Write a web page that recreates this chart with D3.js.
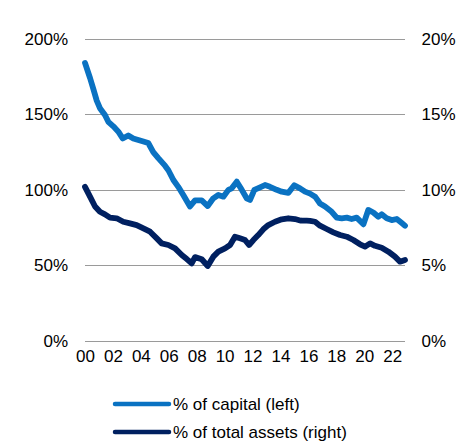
<!DOCTYPE html>
<html>
<head>
<meta charset="utf-8">
<script src="https://cdn.jsdelivr.net/npm/d3@7"></script>
<style>
  body { margin: 0; background: #fff; }
  text { font-family: "Liberation Sans", Arial, sans-serif; font-size: 17px; fill: #000; }
</style>
</head>
<body>
<svg width="476" height="441"></svg>
<script>
// years since 2000 for each reading, and the readings themselves
var capYears = [0, 0.36, 0.59, 0.84, 1.07, 1.43, 1.67, 2.03, 2.39, 2.70, 3.10, 3.46, 3.82, 4.18, 4.53, 4.89,
    5.25, 5.73, 5.97, 6.33, 6.68, 7.04, 7.52, 7.88, 8.36, 8.79, 9.19, 9.55, 9.91, 10.27, 10.51, 10.87,
    11.23, 11.58, 11.82, 12.13, 12.54, 12.89, 13.25, 13.73, 14.09, 14.56, 14.99, 15.40, 15.76, 16.12,
    16.48, 16.83, 17.19, 17.67, 18.03, 18.39, 18.75, 19.10, 19.46, 19.94, 20.29, 20.65, 21.01, 21.25,
    21.61, 21.97, 22.33, 22.69, 22.92];
var capital = [184, 174, 167, 159, 154, 149.5, 145, 142, 138.5, 134, 136, 134, 133, 132, 131, 125,
    121, 116, 113, 106.5, 102, 96.6, 89, 93, 93, 89.3, 94.4, 96.6, 95.5, 100, 101, 105.4,
    100, 94.4, 93.3, 100, 101.7, 103.2, 102, 100, 98.8, 98, 103, 101, 98.8, 97.5,
    95.5, 91, 89, 85.5, 81.6, 81.2, 81.6, 80.7, 81.6, 77.2, 86.7, 85, 82.2, 83.8,
    81.2, 80, 80.7, 78, 76.3];

var assetYears = [0, 0.36, 0.72, 1.07, 1.43, 1.79, 2.27, 2.74, 3.22, 3.70, 4.18, 4.66, 5.14, 5.49, 5.97,
    6.45, 6.93, 7.29, 7.64, 7.88, 8.36, 8.79, 9.19, 9.55, 10.03, 10.39, 10.74, 11.10, 11.46, 11.75,
    12.06, 12.41, 12.77, 13.13, 13.61, 14.09, 14.56, 15.04, 15.47, 15.88, 16.12, 16.48, 16.83, 17.31,
    17.79, 18.27, 18.75, 19.22, 19.70, 20.06, 20.42, 20.77, 21.25, 21.73, 22.20, 22.56, 22.92];
var assets = [10.2, 9.55, 8.9, 8.55, 8.38, 8.16, 8.12, 7.89, 7.78, 7.67, 7.45, 7.23, 6.79, 6.46, 6.35,
    6.13, 5.69, 5.42, 5.14, 5.55, 5.41, 4.96, 5.58, 5.91, 6.13, 6.35, 6.9, 6.79, 6.68, 6.35,
    6.68, 7.01, 7.39, 7.67, 7.89, 8.05, 8.12, 8.07, 7.96, 7.96, 7.95, 7.89, 7.63, 7.41,
    7.19, 7.01, 6.9, 6.68, 6.4, 6.24, 6.46, 6.3, 6.17, 5.91, 5.58, 5.25, 5.36];

var xTicks = [0, 2, 4, 6, 8, 10, 12, 14, 16, 18, 20, 22];
var leftTicks = [0, 50, 100, 150, 200];
var rightTicks = [0, 5, 10, 15, 20];
var seriesNames = ["% of capital (left)", "% of total assets (right)"];
var seriesColors = ["#0A72C2", "#002060"];

var svg = d3.select("svg");

var x = d3.scaleLinear().domain([0, 22.92]).range([85, 405]);
var yLeft = d3.scaleLinear().domain([0, 200]).range([341, 38.7]);
var yRight = d3.scaleLinear().domain([0, 20]).range([341, 38.7]);

// gridlines
svg.append("g").selectAll("line")
    .data(leftTicks)
    .enter().append("line")
    .attr("x1", 85).attr("x2", 405)
    .attr("y1", function (d) { return Math.round(yLeft(d)) + 0.5; })
    .attr("y2", function (d) { return Math.round(yLeft(d)) + 0.5; })
    .attr("stroke", "#9a9a9a")
    .attr("stroke-width", 1.2);

// left axis
var leftAxis = svg.append("g")
    .attr("transform", "translate(68,0)")
    .call(d3.axisLeft(yLeft).tickValues(leftTicks).tickSize(0).tickPadding(0)
        .tickFormat(function (d) { return d + "%"; }));
leftAxis.select(".domain").remove();

// right axis
var rightAxis = svg.append("g")
    .attr("transform", "translate(421.5,0)")
    .call(d3.axisRight(yRight).tickValues(rightTicks).tickSize(0).tickPadding(0)
        .tickFormat(function (d) { return d + "%"; }));
rightAxis.select(".domain").remove();

// bottom axis
var bottomAxis = svg.append("g")
    .attr("transform", "translate(0,350)")
    .call(d3.axisBottom(x).tickValues(xTicks).tickSize(0).tickPadding(0)
        .tickFormat(function (d) { return d < 10 ? "0" + d : "" + d; }));
bottomAxis.select(".domain").remove();

svg.selectAll(".tick text")
    .attr("font-family", "Liberation Sans, Arial, sans-serif")
    .attr("font-size", 17)
    .attr("fill", "#000");

// lines
var capLine = d3.line()
    .x(function (d, i) { return x(capYears[i]); })
    .y(function (d) { return yLeft(d); });
var assetLine = d3.line()
    .x(function (d, i) { return x(assetYears[i]); })
    .y(function (d) { return yRight(d); });

svg.append("path")
    .datum(capital)
    .attr("d", capLine)
    .attr("fill", "none")
    .attr("stroke", seriesColors[0])
    .attr("stroke-width", 5.8)
    .attr("stroke-linejoin", "round")
    .attr("stroke-linecap", "round");

svg.append("path")
    .datum(assets)
    .attr("d", assetLine)
    .attr("fill", "none")
    .attr("stroke", seriesColors[1])
    .attr("stroke-width", 5.8)
    .attr("stroke-linejoin", "round")
    .attr("stroke-linecap", "round");

// legend
var legend = svg.append("g").selectAll("g")
    .data(seriesNames)
    .enter().append("g")
    .attr("transform", function (d, i) { return "translate(0," + (404 + i * 28) + ")"; });

legend.append("line")
    .attr("x1", 115).attr("x2", 169)
    .attr("stroke", function (d, i) { return seriesColors[i]; })
    .attr("stroke-width", 4.5)
    .attr("stroke-linecap", "round");

legend.append("text")
    .attr("x", 173)
    .attr("dy", "0.35em")
    .text(function (d) { return d; });
</script>
</body>
</html>
